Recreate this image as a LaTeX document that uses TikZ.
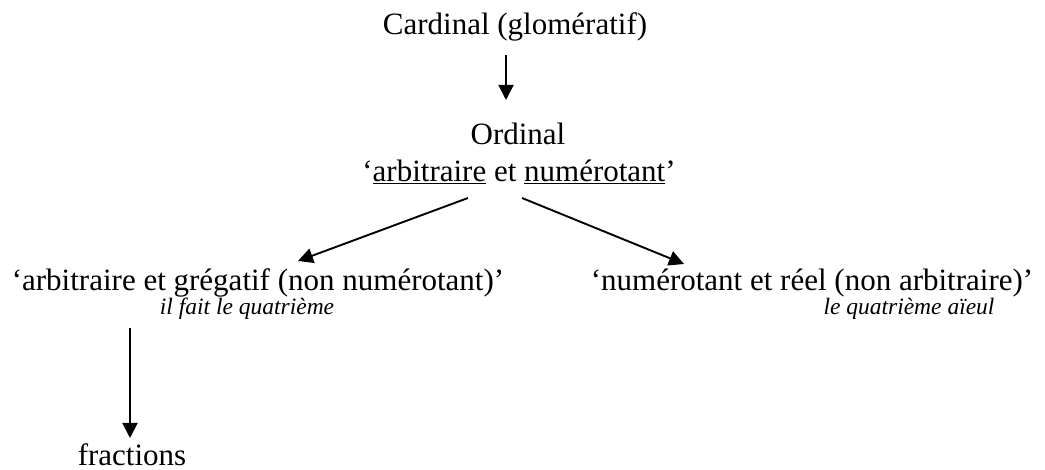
\documentclass[tikz,border=0pt]{standalone}
\usepackage{fontspec}
\setmainfont{Liberation Serif}
\usetikzlibrary{arrows.meta}
\begin{document}
\begin{tikzpicture}[x=1pt,y=-1pt,
  main/.style={anchor=base,inner sep=0pt,font=\fontsize{31}{37}\selectfont},
  note/.style={anchor=base,inner sep=0pt,font=\fontsize{23.5}{28}\selectfont\itshape},
  arr/.style={line width=1.9pt,-{Triangle[length=15pt,width=15pt]}}]
\useasboundingbox (0,0) rectangle (1045,470);
\node[main] (card) at (515,35) {Cardinal (glomératif)};
\node[main] (ord) at (518,145) {Ordinal};
\node[main] (ord2) at (519,182) {‘\underline{arbitraire} et \underline{numérotant}’};
\node[main] (left) at (258,291) {‘arbitraire et grégatif (non numérotant)’};
\node[note] (leftn) at (247,315) {il fait le quatrième};
\node[main] (right) at (812,291) {‘numérotant et réel (non arbitraire)’};
\node[note] (rightn) at (909,315) {le quatrième aïeul};
\node[main] (frac) at (132,465) {fractions};
\coordinate (a1s) at (506,55);
\coordinate (a1e) at (506,100);
\coordinate (a2s) at (468,198);
\coordinate (a2e) at (298,261);
\coordinate (a3s) at (522,198);
\coordinate (a3e) at (684,264);
\coordinate (a4s) at (130,328);
\coordinate (a4e) at (130,438);
\draw[arr] (a1s) -- (a1e);
\draw[arr] (a2s) -- (a2e);
\draw[arr] (a3s) -- (a3e);
\draw[arr] (a4s) -- (a4e);
\end{tikzpicture}
\end{document}
